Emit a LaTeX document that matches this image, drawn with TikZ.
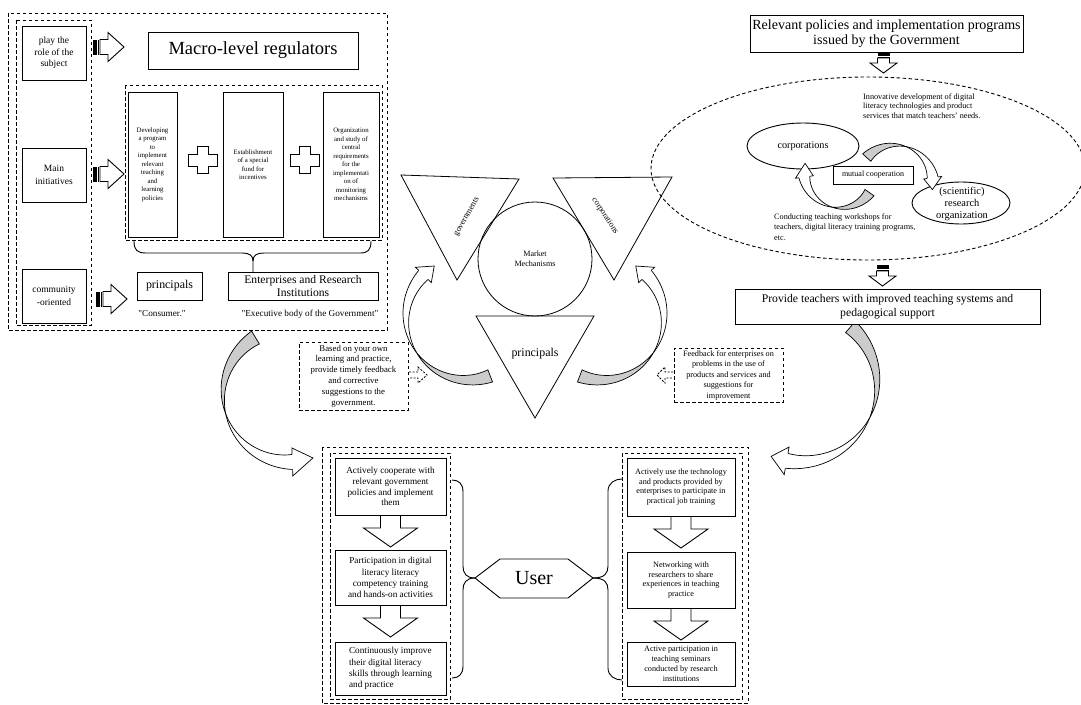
\documentclass[tikz,border=0pt]{standalone}
\usepackage{fontspec}
\setmainfont{Liberation Serif}
\usetikzlibrary{shapes.geometric}
\newcommand\fs[2]{\fontsize{#1}{#2}\selectfont}
% striped right block arrow: #1 = left x, #2 = centre y
\newcommand\rblock[2]{%
  \fill (#1,#2-7.5) rectangle (#1+4,#2+7.5);
  \draw[line width=0.6pt] (#1+5.5,#2-7.5) -- (#1+5.5,#2+7.5);
  \draw[line width=0.9pt, fill=white] (#1+7,#2-7.5) -- (#1+15,#2-7.5) -- (#1+15,#2-14.5) -- (#1+31,#2) -- (#1+15,#2+14.5) -- (#1+15,#2+7.5) -- (#1+7,#2+7.5) -- cycle;}
% striped down block arrow: #1 = centre x, #2 = top y
\newcommand\dblock[2]{%
  \fill (#1-6,#2) rectangle (#1+6,#2+3.5);
  \draw[line width=0.6pt] (#1-6,#2+5) -- (#1+6,#2+5);
  \draw[line width=0.9pt, fill=white] (#1-6,#2+6) -- (#1+6,#2+6) -- (#1+6,#2+11) -- (#1+13.5,#2+11) -- (#1,#2+21) -- (#1-13.5,#2+11) -- (#1-6,#2+11) -- cycle;}
% down arrow between column boxes
\newcommand\colarrow[2]{%
  \filldraw[line width=0.9pt, fill=white] (#1-10,#2) -- (#1-10,#2+13) -- (#1-27,#2+13) -- (#1,#2+32) -- (#1+27,#2+13) -- (#1+10,#2+13) -- (#1+10,#2);}
% plus sign
\newcommand\plussign[2]{%
  \draw[line width=0.9pt, fill=white] (#1-5.5,#2-13.5) -- (#1+5.5,#2-13.5) -- (#1+5.5,#2-6) -- (#1+14.5,#2-6) -- (#1+14.5,#2+6) -- (#1+5.5,#2+6) -- (#1+5.5,#2+13.5) -- (#1-5.5,#2+13.5) -- (#1-5.5,#2+6) -- (#1-14.5,#2+6) -- (#1-14.5,#2-6) -- (#1-5.5,#2-6) -- cycle;}
% twisted curved block arrow: cx, cy, r, start angle, end angle, width, head half width, head angle (signed)
\newcommand\twarrow[8]{%
  \pgfmathsetmacro\twm{((#4)+(#5))/2}%
  \filldraw[fill=gray!40, line width=0.7pt]
    plot[domain=#4:\twm, samples=40, variable=\t]
      ({#1+(#3+0.5*(#6)*(\twm-\t)/(\twm-(#4)))*cos(\t)}, {#2+(#3+0.5*(#6)*(\twm-\t)/(\twm-(#4)))*sin(\t)})
    -- plot[domain=\twm:#4, samples=40, variable=\t]
      ({#1+(#3-0.5*(#6)*(\twm-\t)/(\twm-(#4)))*cos(\t)}, {#2+(#3-0.5*(#6)*(\twm-\t)/(\twm-(#4)))*sin(\t)})
    -- cycle;
  \fill[white]
    plot[domain=\twm:#5, samples=40, variable=\t]
      ({#1+(#3+0.5*(#6)*(\t-\twm)/((#5)-\twm))*cos(\t)}, {#2+(#3+0.5*(#6)*(\t-\twm)/((#5)-\twm))*sin(\t)})
    -- plot[domain=#5:\twm, samples=40, variable=\t]
      ({#1+(#3-0.5*(#6)*(\t-\twm)/((#5)-\twm))*cos(\t)}, {#2+(#3-0.5*(#6)*(\t-\twm)/((#5)-\twm))*sin(\t)})
    -- cycle;
  \draw[line width=0.7pt]
    plot[domain=\twm:#5, samples=40, variable=\t]
      ({#1+(#3+0.5*(#6)*(\t-\twm)/((#5)-\twm))*cos(\t)}, {#2+(#3+0.5*(#6)*(\t-\twm)/((#5)-\twm))*sin(\t)});
  \draw[line width=0.7pt]
    plot[domain=\twm:#5, samples=40, variable=\t]
      ({#1+(#3-0.5*(#6)*(\t-\twm)/((#5)-\twm))*cos(\t)}, {#2+(#3-0.5*(#6)*(\t-\twm)/((#5)-\twm))*sin(\t)});
  \filldraw[fill=white, line width=0.7pt]
    ({#1+(#3+0.5*(#6))*cos(#5)},{#2+(#3+0.5*(#6))*sin(#5)})
    -- ({#1+(#3+#7)*cos(#5)},{#2+(#3+#7)*sin(#5)})
    -- ({#1+(#3)*cos((#5)+(#8))},{#2+(#3)*sin((#5)+(#8))})
    -- ({#1+(#3-#7)*cos(#5)},{#2+(#3-#7)*sin(#5)})
    -- ({#1+(#3-0.5*(#6))*cos(#5)},{#2+(#3-0.5*(#6))*sin(#5)});}

\begin{document}
\begin{tikzpicture}[x=1pt,y=-1pt,
  box/.style={draw, line width=0.9pt, fill=white, inner sep=0pt, align=center},
  dashline/.style={line width=0.9pt, dash pattern=on 3.5pt off 2.5pt},
  dnode/.style={draw, line width=0.9pt, dash pattern=on 3.5pt off 2.5pt, inner sep=0pt, align=center, fill=white},
  lbl/.style={inner sep=0pt, align=center},
  tri/.style={draw, line width=0.8pt}]

\useasboundingbox[fill=white] (0,0) rectangle (1081,704);

% ---------------- top-left group ----------------
\draw[dashline] (8,13) rectangle (387,330);
\draw[dashline] (16,20) rectangle (91,325);
\draw[dashline] (125,85) rectangle (382,240);

\node[box, minimum width=64, minimum height=54, font=\fs{9.5}{11.7}] (play) at (54,53) {play the\\role of the\\subject};
\node[box, minimum width=64, minimum height=54, font=\fs{9.5}{13}] (main) at (54,175) {Main\\initiatives};
\node[box, minimum width=64, minimum height=54, font=\fs{9.5}{13}] (comm) at (54,296) {community\\-oriented};

\rblock{93}{47}
\rblock{93}{174}
\rblock{96}{299}

\node[box, minimum width=210, minimum height=37, font=\fs{18.5}{22}] (macro) at (253,50.5) {Macro-level regulators};

\node[box, minimum width=49, minimum height=145, font=\fs{6.8}{8.5}] (t1) at (152.5,164.5) {Developing\\a program\\to\\implement\\relevant\\teaching\\and\\learning\\policies};
\node[box, minimum width=60, minimum height=145, font=\fs{6.8}{8.5}] (t2) at (253,164.5) {Establishment\\of a special\\fund for\\incentives};
\node[box, minimum width=56, minimum height=145, font=\fs{6.8}{8.5}] (t3) at (351,164.5) {Organization\\and study of\\central\\requirements\\for the\\implementati\\on of\\monitoring\\mechanisms};
\plussign{203}{160}
\plussign{305}{160}

\node[box, minimum width=65, minimum height=28, font=\fs{11.9}{14}] (princ) at (169.5,286) {principals};
\node[box, minimum width=150, minimum height=28, font=\fs{11.6}{13.5}] (enter) at (303,286) {Enterprises and Research\\Institutions};
\coordinate (bt) at (253,272);
\draw[line width=0.9pt] (134,241) .. controls (134,250) and (137,253) .. (146,253) -- (242,253) .. controls (249,253) and (253,255) .. (253,261) -- (bt);
\draw[line width=0.9pt] (371,241) .. controls (371,250) and (368,253) .. (360,253) -- (264,253) .. controls (257,253) and (253,255) .. (253,261);

\node[lbl, font=\fs{9.2}{11}] (cons) at (162,314) {\textquotedbl Consumer.\textquotedbl};
\node[lbl, font=\fs{9.2}{11}] (exec) at (310,314) {\textquotedbl Executive body of the Government\textquotedbl};

% ---------------- middle ----------------
\draw[tri] (401,175) -- (519,179) -- (457,280) -- cycle;
\draw[tri] (553,178) -- (672,177) -- (614,280) -- cycle;
\draw[tri] (476,316) -- (594,316) -- (535,418) -- cycle;
\coordinate (mktc) at (535,259);
\draw[line width=0.8pt] (mktc) circle [radius=57];
\node[lbl, font=\fs{8.1}{10}] (mkt) at (mktc) {Market\\Mechanisms};
\node[lbl, rotate=60, font=\fs{8.4}{10}] (gov) at (467,217) {governments};
\node[lbl, rotate=-57, font=\fs{8.4}{10}] (corptri) at (605,216) {corporations};
\node[lbl, font=\fs{11.9}{14}] (princtri) at (535,354) {principals};

\twarrow{468}{318}{62}{69}{224}{13}{11}{13}
\twarrow{602}{318}{62}{111}{-44}{13}{11}{-13}

\node[dnode, minimum width=109, minimum height=68, font=\fs{8.8}{10.8}] (fbl) at (353.5,376) {Based on your own\\learning and practice,\\provide timely feedback\\and corrective\\suggestions to the\\government.};
\node[dnode, minimum width=109, minimum height=54, font=\fs{8.2}{10.5}] (fbr) at (728.5,375) {Feedback for enterprises on\\problems in the use of\\products and services and\\suggestions for\\improvement};
\draw[line width=0.8pt, dash pattern=on 2pt off 1.5pt] (409,372) -- (418,372) -- (418,367) -- (427,375) -- (418,383) -- (418,378) -- (409,378);
\draw[line width=0.8pt, dash pattern=on 2pt off 1.5pt] (673,372) -- (665,372) -- (665,367) -- (657,375) -- (665,383) -- (665,378) -- (673,378);

% big curved arrows
\twarrow{290}{395}{67}{239}{88}{15}{14}{-18}
\twarrow{800}{385}{77}{-49}{100}{15}{14}{12}

% ---------------- top-right ----------------
\node[box, minimum width=273, minimum height=37, font=\fs{14}{15.5}] (relev) at (886.5,33.5) {Relevant policies and implementation programs\\issued by the Government};
\dblock{883.5}{52}
\draw[dashline] (868,168.5) ellipse [x radius=217, y radius=91.5];
\node[lbl, anchor=west, align=left, font=\fs{8.2}{9.8}] (innov) at (863,106) {Innovative development of digital\\literacy technologies and product\\services that match teachers' needs.};
\coordinate (corp) at (803,146);
\draw[line width=0.9pt, fill=white] (corp) ellipse [x radius=56, y radius=23];
\node[lbl, font=\fs{10.2}{12}] (corptext) at (corp) {corporations};
\coordinate (sci) at (961,203);
\draw[line width=0.9pt, fill=white] (sci) ellipse [x radius=49, y radius=21];
\node[lbl, font=\fs{10.4}{12}] (scitext) at (962,204) {(scientific)\\research\\organization};
\twarrow{895}{183}{38}{222}{352}{11}{9}{18}
\twarrow{840}{172}{36}{35}{172}{11}{9}{22}
\node[box, minimum width=80, minimum height=18, font=\fs{8}{9.6}] (mutual) at (873,175) {mutual cooperation};
\node[lbl, anchor=west, align=left, font=\fs{8.2}{10.3}] (conduct) at (774,227) {Conducting teaching workshops for\\teachers, digital literacy training programs,\\etc.};
\dblock{882.5}{265}
\node[box, minimum width=305, minimum height=35, font=\fs{11.7}{14.3}] (provide) at (887.5,306.5) {Provide teachers with improved teaching systems and\\pedagogical support};

% ---------------- bottom ----------------
\draw[dashline] (322,447) rectangle (748,703);
\draw[dashline] (330,453) rectangle (450,699);
\draw[dashline] (622,453) rectangle (742,699);

\colarrow{390.5}{515}
\colarrow{390.5}{605}
\colarrow{681}{516}
\colarrow{681}{608}

\node[box, minimum width=111, minimum height=57, font=\fs{9.2}{10.8}] (la) at (390.5,486.5) {Actively cooperate with\\relevant government\\policies and implement\\them};
\node[box, minimum width=111, minimum height=55, font=\fs{9.2}{11.2}] (lb) at (390.5,577.5) {Participation in digital\\literacy literacy\\competency training\\and hands-on activities};
\node[box, minimum width=111, minimum height=53, font=\fs{9.2}{11.2}, align=left] (lc) at (390.5,668.5) {Continuously improve\\their digital literacy\\skills through learning\\and practice};

\node[box, minimum width=108, minimum height=58, font=\fs{8.2}{9.9}] (ra) at (681,487) {Actively use the technology\\and products provided by\\enterprises to participate in\\practical job training};
\node[box, minimum width=108, minimum height=56, font=\fs{8.2}{9.9}] (rb) at (681,580) {Networking with\\researchers to share\\experiences in teaching\\practice};
\node[box, minimum width=108, minimum height=44, font=\fs{8.2}{9.9}] (rc) at (681,664) {Active participation in\\teaching seminars\\conducted by research\\institutions};

\draw[line width=0.9pt] (475,578) -- (500,559) -- (568,559) -- (593,578) -- (568,598) -- (500,598) -- cycle;
\node[lbl, font=\fs{20}{24}] (user) at (534,578) {User};

\draw[line width=0.9pt] (452,480) .. controls (459,480) and (463,484) .. (463,492) -- (463,566) .. controls (463,573) and (466,578) .. (475,578);
\draw[line width=0.9pt] (452,678) .. controls (459,678) and (463,674) .. (463,666) -- (463,590) .. controls (463,583) and (466,578) .. (475,578);
\draw[line width=0.9pt] (622,479) .. controls (615,479) and (608,483) .. (608,491) -- (608,566) .. controls (608,573) and (605,578) .. (593,578);
\draw[line width=0.9pt] (622,680) .. controls (615,680) and (608,676) .. (608,668) -- (608,590) .. controls (608,583) and (605,578) .. (593,578);

\end{tikzpicture}
\end{document}
